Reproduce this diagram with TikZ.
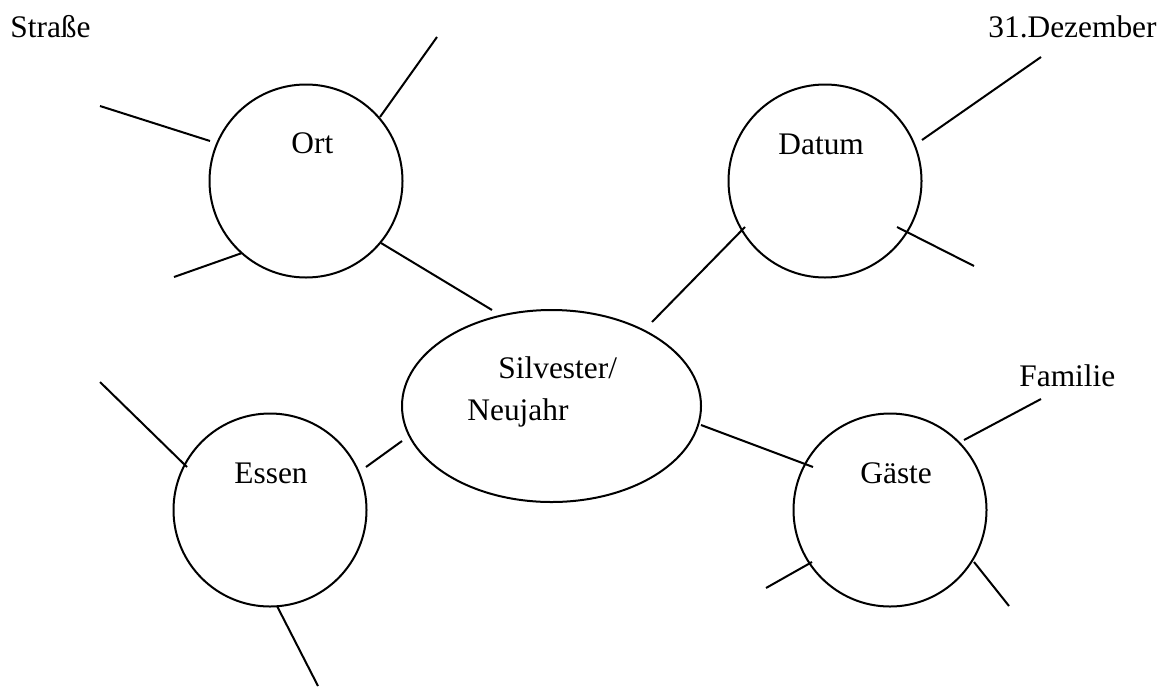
\documentclass[tikz,border=0pt]{standalone}
\usepackage{fontspec}
\setmainfont{Liberation Serif}
\usetikzlibrary{shapes.geometric}
\begin{document}
\begin{tikzpicture}[x=0.5pt,y=-0.5pt,
  every node/.style={font=\fontsize{15.7}{18}\selectfont},
  topic/.style={draw,circle,line width=1pt,minimum size=96.5pt,inner sep=0pt},
  hub/.style={draw,ellipse,line width=1pt,minimum width=149.5pt,minimum height=96pt,inner sep=0pt},
  word/.style={anchor=base west,inner sep=0pt},
  spoke/.style={line width=1pt}]
\useasboundingbox (0,0) rectangle (1170,686);

% central ellipse and the four topic circles
\node[hub]   (hub)   at (551.5,406) {};
\node[topic] (ort)   at (306,181) {};
\node[topic] (datum) at (825,181) {};
\node[topic] (essen) at (270,510) {};
\node[topic] (gaeste) at (890,510) {};

% labels
\node[word] (tort)   at (291,153) {Ort};
\node[word] (tdatum) at (778,154) {Datum};
\node[word] (tessen) at (234,483) {Essen};
\node[word] (tgaeste) at (860,483) {Gäste};
\node[word] (tsil)   at (498,378) {Silvester/};
\node[word] (tneu)   at (467,420) {Neujahr};
\node[word] (tstr)   at (10,37) {Straße};
\node[anchor=base east,inner sep=0pt] (tdez) at (1157,37) {31.Dezember};
\node[word] (tfam)   at (1019,386) {Familie};

% end points of the spokes
\coordinate (o1a) at (100,106);  \coordinate (o1b) at (210,141);
\coordinate (o2a) at (380,117);  \coordinate (o2b) at (437,37);
\coordinate (o3a) at (174,277);  \coordinate (o3b) at (242,253);
\coordinate (o4a) at (381,243);  \coordinate (o4b) at (492,310);

\coordinate (d1a) at (922,140);  \coordinate (d1b) at (1041,57);
\coordinate (d2a) at (897,227);  \coordinate (d2b) at (974,266);
\coordinate (d3a) at (745,227);  \coordinate (d3b) at (652,322);

\coordinate (e1a) at (100,382);  \coordinate (e1b) at (187,467);
\coordinate (e2a) at (366,467);  \coordinate (e2b) at (402,441);
\coordinate (e3a) at (277,606);  \coordinate (e3b) at (318,686);

\coordinate (g1a) at (701,425);  \coordinate (g1b) at (813,467);
\coordinate (g2a) at (964,440);  \coordinate (g2b) at (1041,399);
\coordinate (g3a) at (766,588);  \coordinate (g3b) at (812,562);
\coordinate (g4a) at (974,562);  \coordinate (g4b) at (1009,606);

% spokes
\draw[spoke] (o1a) -- (o1b);
\draw[spoke] (o2a) -- (o2b);
\draw[spoke] (o3a) -- (o3b);
\draw[spoke] (o4a) -- (o4b);
\draw[spoke] (d1a) -- (d1b);
\draw[spoke] (d2a) -- (d2b);
\draw[spoke] (d3a) -- (d3b);
\draw[spoke] (e1a) -- (e1b);
\draw[spoke] (e2a) -- (e2b);
\draw[spoke] (e3a) -- (e3b);
\draw[spoke] (g1a) -- (g1b);
\draw[spoke] (g2a) -- (g2b);
\draw[spoke] (g3a) -- (g3b);
\draw[spoke] (g4a) -- (g4b);
\end{tikzpicture}
\end{document}
